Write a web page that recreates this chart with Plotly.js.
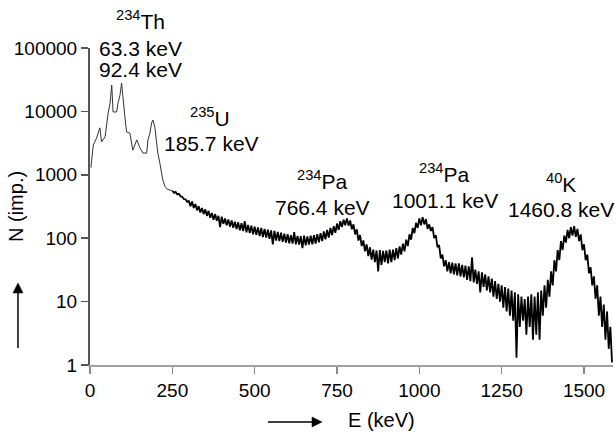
<!DOCTYPE html>
<html>
<head>
<meta charset="utf-8">
<script src="https://cdn.plot.ly/plotly-3.0.1.min.js"></script>
<style>html,body{margin:0;padding:0;background:#fff;}#chart{width:615px;height:434px;}</style>
</head>
<body>
<div id="chart"></div>
<script>
// Low-energy part of the spectrum (read point by point)
const lowEnergy = [3, 5, 10, 20, 30, 35, 46, 55, 61, 66, 70, 81, 85, 91, 96, 100, 106, 111, 121, 130,
  142, 152, 161, 172, 176, 182, 187, 191, 197, 202, 206, 212, 221, 228, 235, 243, 250];
const lowCounts = [1300, 1700, 2950, 3800, 5500, 3300, 4000, 9400, 13500, 26000, 9800, 9800, 13500, 18000, 28000, 17000, 8200, 4750, 4550, 2450,
  3550, 2650, 2200, 2200, 3550, 4550, 6550, 7300, 5650, 3300, 2200, 1540, 830, 650, 590, 575, 560];

// Main part of the spectrum, energy (keV)
const mainEnergy = [
  250,255,260,265,270,275,280,285,290,295,
  300,305,310,315,320,325,330,335,340,345,
  350,355,360,365,370,375,380,385,390,395,
  400,405,410,415,420,425,430,435,440,445,
  450,455,460,465,470,475,480,485,490,495,
  500,505,510,515,520,525,530,535,540,545,
  550,555,560,565,570,575,580,585,590,595,
  600,605,610,615,620,625,630,635,640,645,
  650,655,660,665,670,675,680,685,690,695,
  700,705,710,715,720,725,730,735,740,745,
  750,755,760,765,770,775,780,785,790,795,
  800,805,810,815,820,825,830,835,840,845,
  850,855,860,865,870,875,880,885,890,895,
  900,905,910,915,920,925,930,935,940,945,
  950,955,960,965,970,975,980,985,990,995,
  1000,1005,1010,1015,1020,1025,1030,1035,1040,1045,
  1050,1055,1060,1065,1070,1075,1080,1085,1090,1095,
  1100,1105,1110,1115,1120,1125,1130,1135,1140,1145,
  1150,1155,1160,1165,1170,1175,1180,1185,1190,1195,
  1200,1205,1210,1215,1220,1225,1230,1235,1240,1245,
  1250,1255,1260,1265,1270,1275,1280,1285,1290,1295,
  1300,1305,1310,1315,1320,1325,1330,1335,1340,1345,
  1350,1355,1360,1365,1370,1375,1380,1385,1390,1395,
  1400,1405,1410,1415,1420,1425,1430,1435,1440,1445,
  1450,1455,1460,1465,1470,1475,1480,1485,1490,1495,
  1500,1505,1510,1515,1520,1525,1530,1535,1540,1545,
  1550,1555,1560,1565,1570,1575,1580,1585];

// Main part of the spectrum, counts N (imp.)
const mainCounts = [
  560,520,535,490,500,455,450,415,410,375,
  385,320,380,300,345,275,320,255,300,240,
  285,225,270,210,250,195,240,188,225,150,
  218,168,205,160,198,152,190,146,182,140,
  178,133,172,130,185,124,162,120,158,115,
  152,113,148,108,145,104,140,102,136,98,
  133,80,130,92,126,90,122,88,118,85,
  116,83,112,82,125,80,109,79,108,70,
  110,77,107,79,110,80,112,82,116,86,
  120,90,128,96,135,102,145,112,155,122,
  170,135,185,150,195,160,205,158,190,138,
  165,115,138,92,112,75,92,62,80,52,
  72,46,66,42,64,30,65,38,63,42,
  64,40,66,42,66,45,70,48,74,55,
  82,62,95,75,115,95,145,120,175,145,
  205,160,215,165,200,140,165,130,150,100,
  112,72,78,48,55,36,45,30,42,28,
  41,27,40,26,40,25,38,24,37,22,
  36,21,50,20,32,19,30,14,29,17,
  27,15,25,14,23,12,21,11,19,10,
  18,8,17,7,16,6,15,5,14,1.3,
  13,4,12,5,11,3,12,4,13,2.5,
  12,3,14,2.5,15,6,18,8,22,12,
  30,18,45,30,65,45,90,65,110,85,
  135,100,150,110,155,105,140,90,115,65,
  80,45,55,28,35,18,25,11,18,6,
  12,4,9,2.5,7,1.8,4,1.1];

const xTickVals = [0, 250, 500, 750, 1000, 1250, 1500];
const yTickVals = [1, 10, 100, 1000, 10000, 100000];
const yTickText = ['1', '10', '100', '1000', '10000', '100000'];

const FONT = 'Liberation Sans, Arial, Helvetica, sans-serif';

const traces = [
  {x: lowEnergy, y: lowCounts, type: 'scatter', mode: 'lines',
    line: {color: '#333', width: 1, simplify: false}, hoverinfo: 'skip'},
  {x: mainEnergy, y: mainCounts, type: 'scatter', mode: 'lines',
    line: {color: '#000', width: 1.8, simplify: false}, hoverinfo: 'skip'}
];

function lab(text, x, y) {
  return {text: text, xref: 'paper', yref: 'paper', x: x, y: y,
    xanchor: 'center', yanchor: 'middle', showarrow: false,
    font: {family: FONT, size: 21, color: '#000'}};
}

const annotations = [
  lab('<sup>234</sup>Th', 0.0975, 1.088),
  lab('63.3 keV', 0.0975, 1.0),
  lab('92.4 keV', 0.0975, 0.9306),
  lab('<sup>235</sup>U', 0.2294, 0.7823),
  lab('185.7 keV', 0.2314, 0.7003),
  lab('<sup>234</sup>Pa', 0.4455, 0.5836),
  lab('766.4 keV', 0.4436, 0.4968),
  lab('<sup>234</sup>Pa', 0.6769, 0.6057),
  lab('1001.1 keV', 0.6788, 0.5205),
  lab('<sup>40</sup>K', 0.9006, 0.5741),
  lab('1460.8 keV', 0.9006, 0.4890),
  {text: 'N (imp.)', xref: 'paper', yref: 'paper', x: -0.1415, y: 0.5016,
    xanchor: 'center', yanchor: 'middle', textangle: -90, showarrow: false,
    font: {family: FONT, size: 20, color: '#000'}},
  {text: 'E (keV)', xref: 'paper', yref: 'paper', x: 0.5583, y: -0.1735,
    xanchor: 'center', yanchor: 'middle', showarrow: false,
    font: {family: FONT, size: 20, color: '#000'}}
];

// Arrows next to the axis titles
const shapes = [
  {type: 'line', xref: 'paper', yref: 'paper', x0: -0.1377, x1: -0.1377, y0: 0.0536, y1: 0.2271,
    line: {color: '#000', width: 1.5}},
  {type: 'path', xref: 'paper', yref: 'paper',
    path: 'M -0.1377 0.2587 L -0.1472 0.2271 L -0.1281 0.2271 Z',
    fillcolor: '#000', line: {color: '#000', width: 0.5}},
  {type: 'line', xref: 'paper', yref: 'paper', x0: 0.3403, x1: 0.4245, y0: -0.1798, y1: -0.1798,
    line: {color: '#000', width: 1.5}},
  {type: 'path', xref: 'paper', yref: 'paper',
    path: 'M 0.4436 -0.1798 L 0.4245 -0.1640 L 0.4245 -0.1956 Z',
    fillcolor: '#000', line: {color: '#000', width: 0.5}}
];

const layout = {
  width: 615, height: 434,
  margin: {l: 90, r: 2, t: 48, b: 69, pad: 0},
  paper_bgcolor: '#fff', plot_bgcolor: '#fff',
  showlegend: false,
  font: {family: FONT, size: 19, color: '#000'},
  xaxis: {
    range: [0, 1588], tickvals: xTickVals, ticktext: xTickVals.map(String),
    showgrid: false, zeroline: false, showline: true, linecolor: '#a0a0a0', linewidth: 2,
    ticks: 'outside', ticklen: 7, tickwidth: 1.5, tickcolor: '#888',
    tickfont: {family: FONT, size: 19, color: '#000'}, automargin: false
  },
  yaxis: {
    type: 'log', range: [0, 5], tickvals: yTickVals, ticktext: yTickText,
    showgrid: false, zeroline: false, showline: true, linecolor: '#555', linewidth: 2,
    ticks: 'outside', ticklen: 7, tickwidth: 1.5, tickcolor: '#555',
    tickfont: {family: FONT, size: 19, color: '#000'}, automargin: false
  },
  annotations: annotations,
  shapes: shapes
};

Plotly.newPlot('chart', traces, layout, {displayModeBar: false, staticPlot: true});
</script>
</body>
</html>
